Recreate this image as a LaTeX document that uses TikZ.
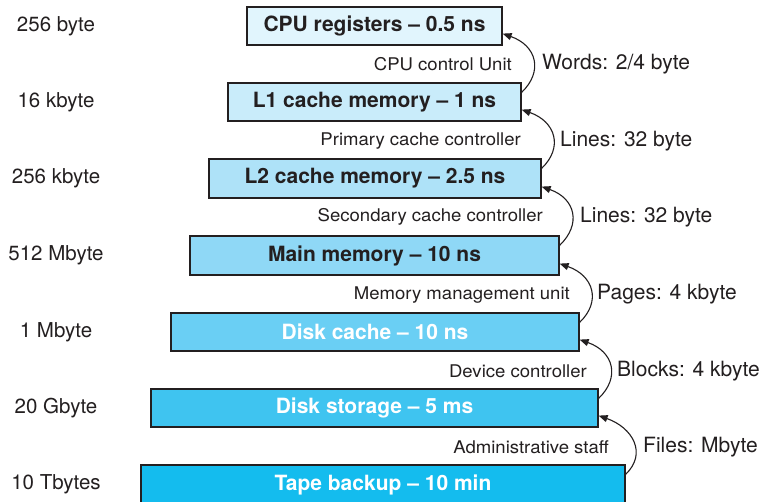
\documentclass[tikz,border=0pt]{standalone}
\usepackage{fontspec}
\setmainfont{TeX Gyre Heros}
\newfontfamily\midfont[FakeStretch=1.06]{TeX Gyre Heros}
\usetikzlibrary{arrows.meta}
\definecolor{ink}{HTML}{231F20}
\definecolor{c1}{HTML}{E1F5FD}
\definecolor{c2}{HTML}{C9ECFA}
\definecolor{c3}{HTML}{AEE2F8}
\definecolor{c4}{HTML}{8FD8F6}
\definecolor{c5}{HTML}{6ACFF4}
\definecolor{c6}{HTML}{3FC4F0}
\definecolor{c7}{HTML}{14BCEE}
\begin{document}
\begin{tikzpicture}[x=1pt,y=-1pt,
  mem/.style={draw=ink, line width=1.2pt, inner sep=0pt, minimum height=38pt,
    font=\bfseries\fontsize{21}{25}\selectfont, text=ink},
  size/.style={inner sep=0pt, font=\fontsize{20.5}{24}\selectfont, text=ink},
  ctrl/.style={anchor=east, inner sep=0pt, font=\midfont\fontsize{17.5}{21}\selectfont, text=ink},
  unit/.style={anchor=west, inner sep=0pt, font=\fontsize{21}{25}\selectfont, text=ink},
  link/.style={draw=ink, line width=1.1pt, -{Triangle[length=9pt,width=7pt]}}
]
\useasboundingbox[fill=white] (0,0) rectangle (769,502);

% memory levels
\node[mem, fill=c1, minimum width=255pt] (b1) at (374.5,26) {CPU registers -- 0.5 ns};
\node[mem, fill=c2, minimum width=293pt] (b2) at (374.5,102) {L1 cache memory -- 1 ns};
\node[mem, fill=c3, minimum width=332pt, minimum height=39pt] (b3) at (375,178.5) {L2 cache memory -- 2.5 ns};
\node[mem, fill=c4, minimum width=369pt, minimum height=39pt] (b4) at (374.5,255.5) {Main memory -- 10 ns};
\node[mem, fill=c5, minimum width=408pt, text=white] (b5) at (375,332) {Disk cache -- 10 ns};
\node[mem, fill=c6, minimum width=447pt, text=white] (b6) at (374.5,408) {Disk storage -- 5 ms};
\node[mem, fill=c7, minimum width=484pt, minimum height=40pt, text=white] (b7) at (383,485) {Tape backup -- 10 min};

% sizes
\node[size] (s1) at (56,26) {256 byte};
\node[size] (s2) at (56,102) {16 kbyte};
\node[size] (s3) at (56,178.5) {256 kbyte};
\node[size] (s4) at (56,255.5) {512 Mbyte};
\node[size] (s5) at (56,332) {1 Mbyte};
\node[size] (s6) at (56,408) {20 Gbyte};
\node[size] (s7) at (56,484) {10 Tbytes};

% controllers
\node[ctrl] (k1) at (512,64) {CPU control Unit};
\node[ctrl] (k2) at (521,141) {Primary cache controller};
\node[ctrl] (k3) at (543,217) {Secondary cache controller};
\node[ctrl] (k4) at (570,295) {Memory management unit};
\node[ctrl] (k5) at (587,371) {Device controller};
\node[ctrl] (k6) at (609,447) {Administrative staff};

% transfer units
\node[unit] (u1) at (542,64) {Words: 2/4 byte};
\node[unit] (u2) at (560,141) {Lines: 32 byte};
\node[unit] (u3) at (580,217) {Lines: 32 byte};
\node[unit] (u4) at (597,294) {Pages: 4 kbyte};
\node[unit] (u5) at (617,371) {Blocks: 4 kbyte};
\node[unit] (u6) at (643,447) {Files: Mbyte};

% transfers
\foreach \lo/\hi in {b2/b1,b3/b2,b4/b3,b5/b4,b6/b5,b7/b6}{
  \draw[link] ([yshift=-10pt]\lo.north east) .. controls +(22,-21) and +(34,12) .. ([yshift=12pt]\hi.south east);
}
\end{tikzpicture}
\end{document}
